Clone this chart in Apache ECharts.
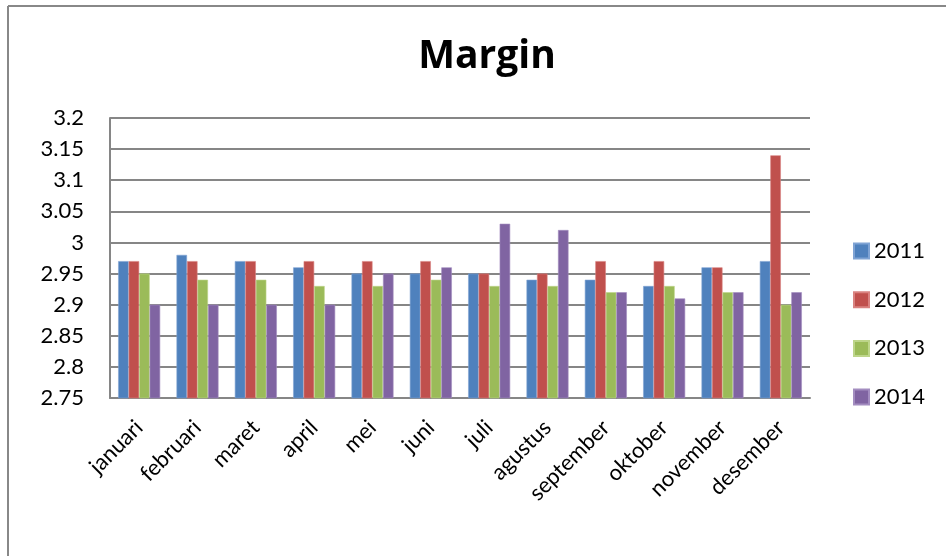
<!DOCTYPE html>
<html><head><meta charset="utf-8">
<script src="https://cdn.jsdelivr.net/npm/echarts@6/dist/echarts.min.js"></script>
<style>html,body{margin:0;padding:0;background:#fff}#c{width:946px;height:556px}</style>
</head><body><div id="c"></div>
<script>
const months = ['januari','februari','maret','april','mei','juni','juli','agustus','september','oktober','november','desember'];
const seriesNames = ['2011','2012','2013','2014'];
const v2011 = [2.97,2.98,2.97,2.96,2.95,2.95,2.95,2.94,2.94,2.93,2.96,2.97];
const v2012 = [2.97,2.97,2.97,2.97,2.97,2.97,2.95,2.95,2.97,2.97,2.96,3.14];
const v2013 = [2.95,2.94,2.94,2.93,2.93,2.94,2.93,2.93,2.92,2.93,2.92,2.90];
const v2014 = [2.90,2.90,2.90,2.90,2.95,2.96,3.03,3.02,2.92,2.91,2.92,2.92];
const colors = ['#4F81BD','#C0504D','#9BBB59','#8064A2'];
const borders = ['#7FA3D4','#D98280','#BDD58A','#A38DC0'];
const FONT = 'Lato';
const chart = echarts.init(document.getElementById('c'), null, {renderer:'canvas'});
const data = [v2011, v2012, v2013, v2014];
chart.setOption({
  animation:false,
  textStyle:{fontFamily:FONT},
  title:{text:'Margin',left:482,top:32,textAlign:'center',
    textStyle:{fontFamily:'Open Sans',fontSize:39,fontWeight:'bold',color:'#000'}},
  legend:{orient:'vertical',left:848,top:235,itemWidth:15,itemHeight:15,itemGap:26.7,
    icon:'rect',textStyle:{fontFamily:FONT,fontSize:22,lineHeight:22,color:'#000'},data:seriesNames},
  grid:{left:110,right:136,top:118,bottom:158},
  xAxis:{type:'category',data:months,
    axisLine:{lineStyle:{color:'#868686',width:2}},axisTick:{show:false},
    axisLabel:{rotate:45,fontFamily:FONT,fontSize:22,color:'#000',margin:26,interval:0}},
  yAxis:{type:'value',min:2.75,max:3.2,interval:0.05,
    axisLine:{show:true,lineStyle:{color:'#868686',width:2}},
    axisTick:{show:false},
    splitLine:{lineStyle:{color:'#868686',width:2}},
    axisLabel:{fontFamily:FONT,fontSize:22,color:'#000',margin:26,
      formatter:v=>String(Math.round(v*100)/100)}},
  graphic:[
    {type:'line',shape:{x1:8,y1:6,x2:946,y2:6},style:{stroke:'#888',lineWidth:2}},
    {type:'line',shape:{x1:8,y1:6,x2:8,y2:556},style:{stroke:'#888',lineWidth:2}}
  ],
  series: seriesNames.map((n,i)=>({
    name:n,type:'bar',data:data[i],barGap:'0%',barCategoryGap:'28%',
    itemStyle:{color:colors[i],borderColor:borders[i],borderWidth:0.6}
  }))
});
</script></body></html>
